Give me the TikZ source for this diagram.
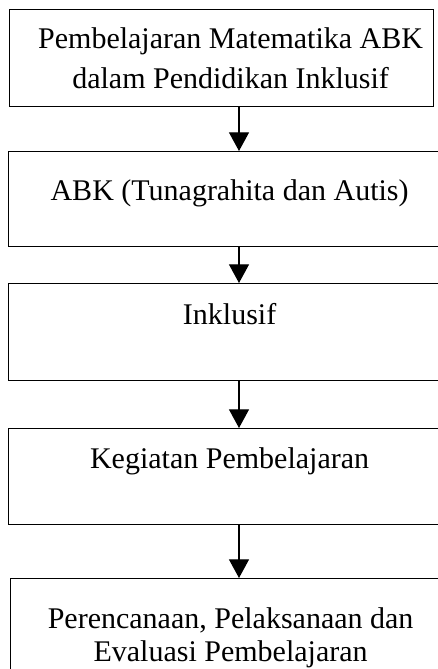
\documentclass[tikz,border=0pt]{standalone}
\usepackage{fontspec}
\setmainfont{Liberation Serif}
\usetikzlibrary{arrows.meta}
\begin{document}
\begin{tikzpicture}[x=.75pt,y=-.75pt,font=\fontsize{22.5}{21.75}\selectfont,
  box/.style={draw,line width=.9pt,rectangle,anchor=north west,inner xsep=0pt,inner ysep=0pt,align=center},
  arr/.style={line width=.9pt,-{Triangle[length=14pt,width=15pt]}}]
\useasboundingbox (0,0) rectangle (438,669);
\clip (0,0) rectangle (438,669);
\coordinate (ax) at (239,0);
\node[box,minimum width=318pt,minimum height=72.75pt] (b1) at (9,9) {\hspace*{13.5pt}Pembelajaran Matematika ABK\\[8.25pt]\hspace*{13.5pt}dalam Pendidikan Inklusif};
\node[box,minimum width=331.5pt,text height=36.75pt,text depth=34.5pt] (b2) at (8,151) {ABK (Tunagrahita dan Autis)};
\node[box,minimum width=331.5pt,text height=30.75pt,text depth=42pt] (b3) at (8,283) {Inklusif};
\node[box,minimum width=331.5pt,text height=30pt,text depth=42pt] (b4) at (8,428) {Kegiatan Pembelajaran};
\node[box,minimum width=330pt,minimum height=89pt] (b5) at (10,578) {Perencanaan, Pelaksanaan dan\\[2.5pt]Evaluasi Pembelajaran};
\foreach \a/\b in {b1/b2,b2/b3,b3/b4,b4/b5}{\draw[arr] (\a.south -| ax) -- (\b.north -| ax);}
\end{tikzpicture}
\end{document}
